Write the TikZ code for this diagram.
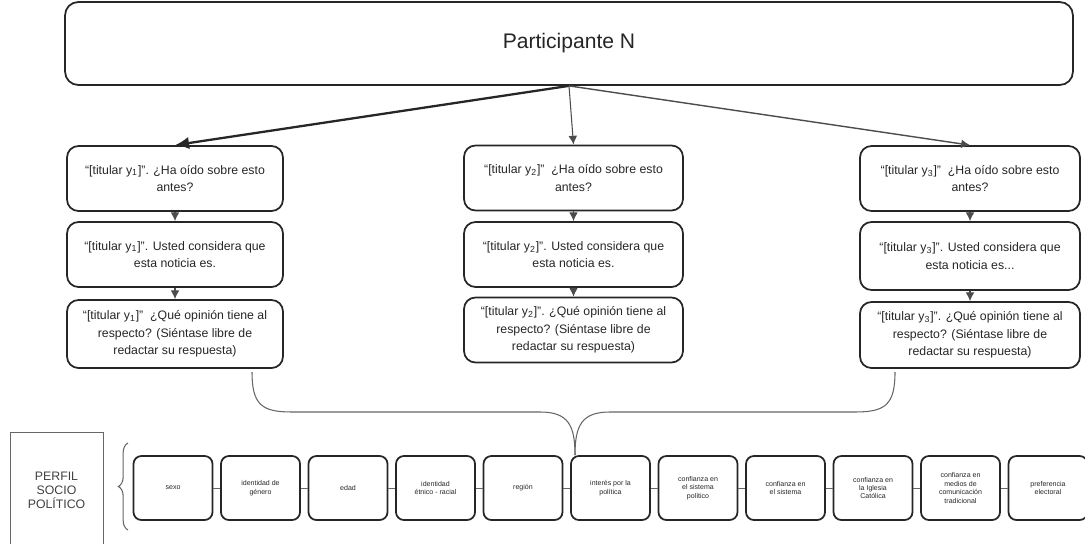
\documentclass[tikz,border=0pt]{standalone}
\usepackage{fontspec}
\setmainfont{Liberation Sans}
\usepackage{tikz}
\usetikzlibrary{positioning, calc, arrows.meta, decorations.pathreplacing}

\begin{document}
\begin{tikzpicture}[x=0.02cm, y=-0.02cm,
	caja/.style={draw=black!85, line width=1pt, rounded corners=6.5pt, align=center, inner sep=1pt, text=black!85},
	pregunta/.style={caja, minimum width=4.32cm, minimum height=1.3cm, font=\fontsize{7}{10}\selectfont},
	cajavar/.style={caja, rounded corners=4.5pt, minimum width=1.58cm, minimum height=1.28cm, font=\fontsize{4}{4.8}\selectfont},
	flecha/.style={draw=black!70, line width=0.6pt, -{Latex[length=5pt,width=5pt]}},
	llave/.style={draw=black!60, line width=0.6pt}]

	\useasboundingbox (0,0) rectangle (1085,544);

	\node [caja, rounded corners=7.5pt, minimum width=20.16cm, minimum height=1.66cm, font=\fontsize{12}{14}\selectfont] (part) at (569,43.5) {Participante N};

	\node [pregunta] (q11) at (175,178.5) {``[titular y\textsubscript{1}]''. ¿Ha oído sobre esto\\antes?};
	\node [pregunta] (q12) at (175,254.5) {``[titular y\textsubscript{1}]''. Usted considera que\\esta noticia es.};
	\node [pregunta, minimum height=1.36cm] (q13) at (175,334) {``[titular y\textsubscript{1}]''\ \ ¿Qué opinión tiene al\\respecto? (Siéntase libre de\\redactar su respuesta)};

	\node [pregunta, minimum width=4.38cm] (q21) at (573.5,178) {``[titular y\textsubscript{2}]''\ \ ¿Ha oído sobre esto\\antes?};
	\node [pregunta, minimum width=4.38cm] (q22) at (573.5,254.5) {``[titular y\textsubscript{2}]''. Usted considera que\\esta noticia es.};
	\node [pregunta, minimum width=4.38cm] (q23) at (573.5,330) {``[titular y\textsubscript{2}]''. ¿Qué opinión tiene al\\respecto? (Siéntase libre de\\redactar su respuesta)};

	\node [pregunta, minimum width=4.4cm] (q31) at (970,178.5) {``[titular y\textsubscript{3}]''\ \ ¿Ha oído sobre esto\\antes?};
	\node [pregunta, minimum width=4.4cm, minimum height=1.36cm] (q32) at (970,256) {``[titular y\textsubscript{3}]''. Usted considera que\\esta noticia es...};
	\node [pregunta, minimum width=4.4cm, minimum height=1.32cm] (q33) at (970,335) {``[titular y\textsubscript{3}]''. ¿Qué opinión tiene al\\respecto? (Siéntase libre de\\redactar su respuesta)};

	\draw [black!85, line width=1.3pt, -{Latex[length=8pt,width=7pt]}] (part.south) -- (q11.north);
	\draw [flecha] (part.south) -- (q21.north);
	\draw [flecha, line width=0.8pt] (part.south) -- (q31.north);

	\foreach \col in {1,2,3}
	{
	\draw [flecha] (q\col1) -- (q\col2);
	\draw [flecha] (q\col2) -- (q\col3);
	}

	\draw [llave] (252,372) .. controls (252,405) and (262,412) .. (292,412) -- (540,412) .. controls (568,412) and (575,425) .. (575,455);
	\draw [llave] (895,372) .. controls (895,405) and (885,412) .. (855,412) -- (610,412) .. controls (582,412) and (575,425) .. (575,455);

	\node [draw=black!60, line width=0.5pt, minimum width=1.86cm, minimum height=2.3cm, anchor=north, align=center, text=black!75, font=\fontsize{7}{8}\selectfont] (perfil) at (56.5,432) {PERFIL\\SOCIO\\POLÍTICO};
	\draw [llave, decorate, decoration={brace, amplitude=5.5pt}] (128,530) -- (128,443);

	\foreach \txt [count=\i from 0] in {sexo, identidad de\\género, edad, identidad\\étnico - racial, región, interés por la\\política, confianza en\\el sistema\\político, confianza en\\el sistema, confianza en\\la Iglesia\\Católica, confianza en\\medios de\\comunicación\\tradicional, preferencia\\electoral}
	\node [cajavar] (v\i) at (173+87.5*\i, 488) {\txt};

	\foreach \i in {0,...,9}
	{
	\pgfmathtruncatemacro{\j}{\i+1}
	\draw [black!60, line width=0.5pt] (v\i) -- (v\j);
	}

\end{tikzpicture}
\end{document}
